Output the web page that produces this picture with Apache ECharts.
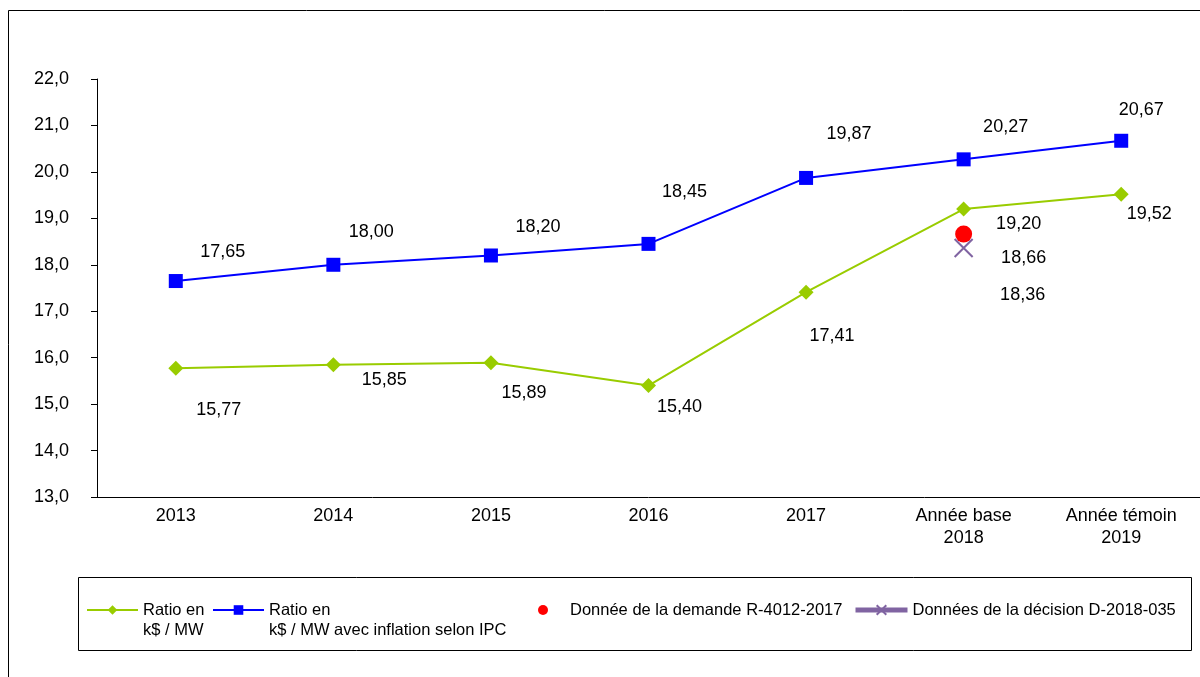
<!DOCTYPE html>
<html><head><meta charset="utf-8">
<script src="https://cdn.jsdelivr.net/npm/echarts@6/dist/echarts.min.js"></script>
<style>html,body{margin:0;padding:0;background:#fff}#c{width:1200px;height:677px}</style>
</head><body><div id="c"></div>
<script>
const categories = ['2013','2014','2015','2016','2017','Année base\n2018','Année témoin\n2019'];
const ratio = [15.77, 15.85, 15.89, 15.40, 17.41, 19.20, 19.52];
const ratioIPC = [17.65, 18.00, 18.20, 18.45, 19.87, 20.27, 20.67];
const demande = [null, null, null, null, null, 18.66, null];
const decision = [null, null, null, null, null, 18.36, null];
const yTicks = {min: 13, max: 22, interval: 1};

const greenOff = [[43,42],[51,15],[33,30],[31,21],[26,44],[55,15],[28,20]];
const blueOff = [[47,-29],[38,-33],[47,-28],[36,-52],[43,-44],[42,-32],[20,-31]];
const fmt = v => v.toFixed(2).replace('.', ',');
const font = "'Liberation Sans', Arial, sans-serif";
const lbl = (off, v) => ({show: true, position: 'inside', offset: off, formatter: () => fmt(v),
  fontSize: 18, color: '#000', fontFamily: font, textBorderWidth: 0, opacity: 1});

function withLabels(vals, offs) {
  return vals.map((v, i) => v == null ? null : ({value: v, label: lbl(offs[i], v)}));
}

const chart = echarts.init(document.getElementById('c'));
const legTxt = {fontSize: 16.5, color: '#000', fontFamily: font, lineHeight: 20};
const legendBase = {itemWidth: 51, itemHeight: 12, itemGap: 5, textStyle: legTxt};
const multi = name => '\n' + name;
chart.setOption({
  animation: false,
  textStyle: {fontFamily: font},
  graphic: [
    {type: 'rect', shape: {x: 8.5, y: 10.5, width: 1300, height: 800}, style: {fill: 'none', stroke: '#000', lineWidth: 1}},
    {type: 'rect', shape: {x: 78.5, y: 577.5, width: 1113, height: 73}, style: {fill: 'none', stroke: '#000', lineWidth: 1}}
  ],
  grid: {left: 97, right: 0, top: 79, bottom: 180},
  xAxis: {
    type: 'category', data: categories, boundaryGap: true,
    axisLine: {lineStyle: {color: '#000'}},
    axisTick: {lineStyle: {color: '#000'}, length: 6},
    axisLabel: {fontSize: 18, color: '#000', lineHeight: 22, margin: 8, interval: 0}
  },
  yAxis: {
    type: 'value', min: yTicks.min, max: yTicks.max, interval: yTicks.interval,
    axisLine: {show: true, lineStyle: {color: '#000'}},
    axisTick: {show: true, lineStyle: {color: '#000'}, length: 6},
    splitLine: {show: false},
    axisLabel: {fontSize: 18, color: '#000', margin: 28, formatter: v => v.toFixed(1).replace('.', ',')}
  },
  legend: [
    Object.assign({}, legendBase, {left: 81, top: 575, formatter: multi, data: ['Ratio en\nk$ / MW']}),
    Object.assign({}, legendBase, {left: 207, top: 575, formatter: multi, data: ['Ratio en\nk$ / MW avec inflation selon IPC']}),
    Object.assign({}, legendBase, {left: 533, top: 595, itemWidth: 44, itemHeight: 10, icon: 'circle', data: ['Donnée de la demande R-4012-2017']}),
    Object.assign({}, legendBase, {left: 848, top: 595, itemWidth: 52, lineStyle: {width: 5}, data: ['Données de la décision D-2018-035']})
  ],
  series: [
    {name: 'Ratio en\nk$ / MW', type: 'line', data: withLabels(ratio, greenOff),
      symbol: 'diamond', symbolSize: 15, itemStyle: {color: '#99CC00'}, lineStyle: {color: '#99CC00', width: 2}, z: 3},
    {name: 'Ratio en\nk$ / MW avec inflation selon IPC', type: 'line', data: withLabels(ratioIPC, blueOff),
      symbol: 'rect', symbolSize: 14, itemStyle: {color: '#0000FF'}, lineStyle: {color: '#0000FF', width: 2}, z: 3},
    {name: 'Donnée de la demande R-4012-2017', type: 'line', showSymbol: true,
      data: demande.map(v => v == null ? null : ({value: v, label: lbl([60, 24], v)})),
      symbol: 'circle', symbolSize: 17, itemStyle: {color: '#FF0000'}, lineStyle: {color: '#FF0000', width: 0}, z: 4},
    {name: 'Données de la décision D-2018-035', type: 'line',
      data: decision.map(v => v == null ? null : ({value: v, label: lbl([59, 47], v)})),
      symbol: 'path://M0,0L10,10M10,0L0,10', symbolSize: 18, showSymbol: true,
      itemStyle: {color: 'transparent', borderColor: '#8064A2', borderWidth: 2},
      lineStyle: {color: '#8064A2', width: 5}, z: 5}
  ]
});
</script></body></html>
